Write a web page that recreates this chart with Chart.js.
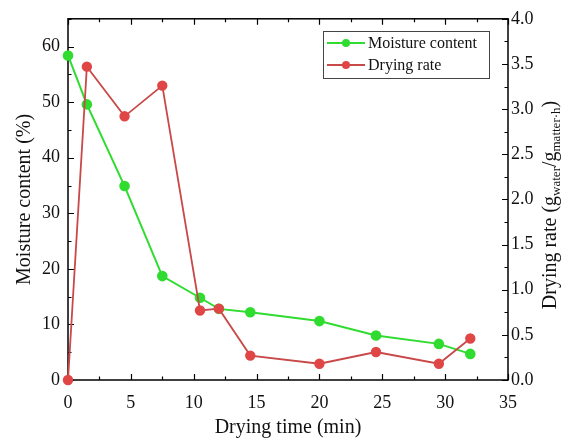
<!DOCTYPE html>
<html>
<head>
<meta charset="utf-8">
<script src="https://cdn.jsdelivr.net/npm/chart.js@4/dist/chart.umd.min.js"></script>
<style>
  body { margin: 0; background: #fff; }
  #wrap { width: 563px; height: 441px; }
</style>
</head>
<body>
<div id="wrap"><canvas id="dryChart" width="563" height="441"></canvas></div>
<script>
// values
const dryingTime = [0, 1.5, 4.5, 7.5, 10.5, 12, 14.5, 20, 24.5, 29.5, 32];
const moistureContent = [58.4, 49.6, 34.9, 18.7, 14.8, 12.8, 12.2, 10.6, 8.0, 6.5, 4.7];
const dryingRate = [0, 3.47, 2.92, 3.26, 0.77, 0.79, 0.27, 0.18, 0.31, 0.18, 0.46];

const xTicks = [0, 5, 10, 15, 20, 25, 30, 35];
const leftTicks = [0, 10, 20, 30, 40, 50, 60];
const rightTicks = [0, 0.5, 1, 1.5, 2, 2.5, 3, 3.5, 4];

const green = '#2fdc2f';
const redLine = '#c94848';
const redDot = '#e04646';
const serif = '"Liberation Serif", "Times New Roman", serif';

function pts(ys) {
    return dryingTime.map((t, i) => ({ x: t, y: ys[i] }));
}

// frame + inward ticks like the Origin plot
const framePlugin = {
    id: 'frame',
    beforeDatasetsDraw(chart) {
        const ctx = chart.ctx;
        const a = chart.chartArea;
        const x = chart.scales.x, y = chart.scales.y, y2 = chart.scales.y2;
        ctx.save();
        ctx.strokeStyle = '#000';
        ctx.lineWidth = 1.5;
        ctx.strokeRect(a.left, a.top, a.right - a.left, a.bottom - a.top);
        ctx.lineWidth = 1.2;
        ctx.beginPath();
        for (let v = 0; v <= 35; v += 2.5) {
            let px = Math.round(x.getPixelForValue(v)) + 0.5;
            let len = v % 5 === 0 ? 6 : 3.5;
            ctx.moveTo(px, a.bottom); ctx.lineTo(px, a.bottom - len);
            ctx.moveTo(px, a.top); ctx.lineTo(px, a.top + len);
        }
        for (let v = 0; v <= 65; v += 5) {
            let py = Math.round(y.getPixelForValue(v)) + 0.5;
            let len = v % 10 === 0 ? 6 : 3.5;
            ctx.moveTo(a.left, py); ctx.lineTo(a.left + len, py);
        }
        for (let v = 0; v <= 4; v += 0.25) {
            let py = Math.round(y2.getPixelForValue(v)) + 0.5;
            let len = (v * 2) % 1 === 0 ? 6 : 3.5;
            ctx.moveTo(a.right, py); ctx.lineTo(a.right - len, py);
        }
        ctx.stroke();
        ctx.restore();
    },
    afterDraw(chart) {
        const ctx = chart.ctx;
        ctx.save();
        // legend box
        const bx = 323, by = 31, bw = 166, bh = 47;
        ctx.strokeStyle = '#444';
        ctx.lineWidth = 1;
        ctx.fillStyle = '#fff';
        ctx.fillRect(bx, by, bw, bh);
        ctx.strokeRect(bx + 0.5, by + 0.5, bw, bh);
        const rows = [
            { label: chart.data.datasets[1].label, line: green, dot: green, y: 43 },
            { label: chart.data.datasets[0].label, line: redLine, dot: redDot, y: 65 }
        ];
        ctx.font = '16px ' + serif;
        ctx.textBaseline = 'middle';
        rows.forEach(r => {
            ctx.strokeStyle = r.line;
            ctx.lineWidth = 2;
            ctx.beginPath();
            ctx.moveTo(327, r.y); ctx.lineTo(365, r.y);
            ctx.stroke();
            ctx.fillStyle = r.dot;
            ctx.beginPath();
            ctx.arc(346, r.y, 4, 0, Math.PI * 2);
            ctx.fill();
            ctx.fillStyle = '#111';
            ctx.fillText(r.label, 368, r.y + 1);
        });

        // right axis title with subscripts
        const parts = [
            { t: 'Drying rate (g', s: 20, dy: 0 },
            { t: 'water', s: 13, dy: 4 },
            { t: '/g', s: 20, dy: 0 },
            { t: 'matter\u00b7h', s: 13, dy: 4 },
            { t: ')', s: 20, dy: 0 }
        ];
        let total = 0;
        parts.forEach(p => {
            ctx.font = p.s + 'px ' + serif;
            p.w = ctx.measureText(p.t).width;
            total += p.w;
        });
        ctx.translate(556, 205);
        ctx.rotate(-Math.PI / 2);
        ctx.fillStyle = '#111';
        ctx.textBaseline = 'alphabetic';
        let cx = -total / 2;
        parts.forEach(p => {
            ctx.font = p.s + 'px ' + serif;
            ctx.fillText(p.t, cx, p.dy);
            cx += p.w;
        });
        ctx.restore();
    }
};

const ctx = document.getElementById('dryChart').getContext('2d');
const dryChart = new Chart(ctx, {
    type: 'line',
    data: {
        datasets: [
            {
                label: 'Drying rate',
                data: pts(dryingRate),
                yAxisID: 'y2',
                borderColor: redLine,
                backgroundColor: redDot,
                pointBackgroundColor: redDot,
                pointBorderColor: redDot,
                borderWidth: 1.8,
                pointRadius: 4.3,
                tension: 0,
                clip: false,
                order: 0
            },
            {
                label: 'Moisture content',
                data: pts(moistureContent),
                yAxisID: 'y',
                borderColor: green,
                backgroundColor: green,
                pointBackgroundColor: green,
                pointBorderColor: green,
                borderWidth: 2,
                pointRadius: 4.3,
                tension: 0,
                clip: false,
                order: 1
            }
        ]
    },
    options: {
        responsive: false,
        animation: false,
        layout: { padding: { top: 16, left: 0, right: 0, bottom: 0 } },
        plugins: {
            legend: { display: false },
            tooltip: { enabled: false }
        },
        scales: {
            x: {
                type: 'linear',
                min: 0,
                max: 35,
                afterBuildTicks: s => { s.ticks = xTicks.map(v => ({ value: v })); },
                afterFit: s => { s.height = 61; },
                grid: { display: false, drawTicks: false },
                border: { display: false },
                ticks: { color: '#111', font: { family: serif, size: 18 }, padding: 12, maxRotation: 0 },
                title: {
                    display: true,
                    text: 'Drying time (min)',
                    color: '#111',
                    font: { family: serif, size: 20 },
                    padding: { top: 0, bottom: 1 }
                }
            },
            y: {
                position: 'left',
                min: 0,
                max: 65,
                afterBuildTicks: s => { s.ticks = leftTicks.map(v => ({ value: v })); },
                afterFit: s => { s.width = 68; },
                grid: { display: false, drawTicks: false },
                border: { display: false },
                ticks: { color: '#111', font: { family: serif, size: 18 }, padding: 8 },
                title: {
                    display: true,
                    text: 'Moisture content (%)',
                    color: '#111',
                    font: { family: serif, size: 20 },
                    padding: { top: 13, bottom: 0 }
                }
            },
            y2: {
                position: 'right',
                min: 0,
                max: 4,
                afterBuildTicks: s => { s.ticks = rightTicks.map(v => ({ value: v })); },
                afterFit: s => { s.width = 55; },
                grid: { display: false, drawTicks: false },
                border: { display: false },
                ticks: {
                    color: '#111',
                    font: { family: serif, size: 18 },
                    padding: 3,
                    callback: v => v.toFixed(1)
                }
            }
        }
    },
    plugins: [framePlugin]
});
</script>
</body>
</html>
